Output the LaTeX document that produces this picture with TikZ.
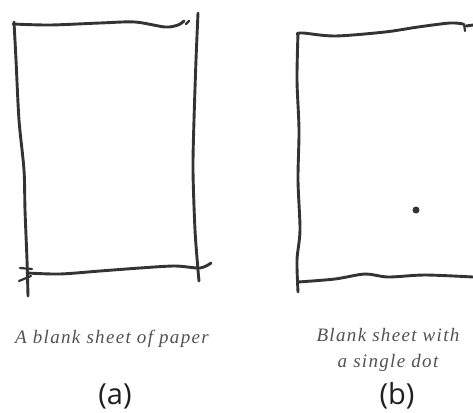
\documentclass[tikz,border=0pt]{standalone}
\usepackage{fontspec}
\setmainfont{Liberation Serif}
\newfontfamily\labelfont{Open Sans}
\usetikzlibrary{positioning}

\begin{document}
\begin{tikzpicture}[
    x=1pt, y=-1pt,
    pen/.style={line width=2.9pt, draw=black!80, line cap=round, line join=round},
    thinpen/.style={pen, line width=2.2pt},
    caption/.style={font=\fontsize{19}{26}\selectfont\itshape\addfontfeatures{LetterSpace=7}, text=black!68, align=center, inner sep=0pt},
    tag/.style={font=\fontsize{29}{32}\selectfont\labelfont, text=black!88, inner sep=0pt}
]
\useasboundingbox[fill=white] (0,0) rectangle (473,412);

% sheet (a)
\draw[pen] plot[smooth] coordinates {(13,24) (50,25) (100,23) (135,22) (165,27) (178,25) (184,21)};
\draw[thinpen] (186,24) -- (189,21);
\draw[pen] plot[smooth] coordinates {(198,13) (196,60) (194,120) (193,170) (195,230) (198,270) (199,281)};
\draw[pen] plot[smooth] coordinates {(14,22) (16,60) (19,120) (24,170) (25,210) (27,260) (28,296)};
\draw[pen] plot[smooth] coordinates {(27,273) (60,274) (100,271) (140,268) (175,266) (200,268) (211,263)};
\draw[thinpen] (20,268) -- (32,269);
\draw[thinpen] (19,281) -- (31,276);

% sheet (b)
\draw[pen] plot[smooth] coordinates {(297,34) (303,33) (335,36) (385,32) (418,27) (450,23) (463,24)};
\draw[thinpen] (464,24) -- (465,31);
\draw[pen] (466,26) -- (473,25);
\draw[pen] plot[smooth] coordinates {(298,33) (297,80) (299,130) (298,180) (300,230) (297,260) (298,292)};
\draw[pen] plot[smooth] coordinates {(298,282) (335,279) (365,274) (388,277) (425,275) (473,277)};
\fill[black!80] (416,210) circle (3.5);

% captions
\node[caption] (capa) at (112,339) {A blank sheet of paper};
\node[caption] (capb) at (388,350) {Blank sheet with\\a single dot};
\node[tag] (taga) at (115,396) {(a)};
\node[tag] (tagb) at (397,396) {(b)};
\end{tikzpicture}
\end{document}
